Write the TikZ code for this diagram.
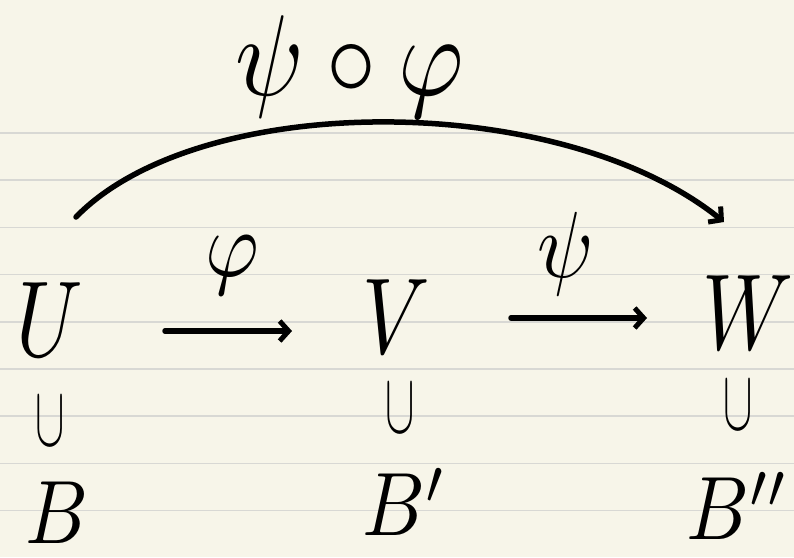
\documentclass[tikz,border=0pt]{standalone}
\usepackage{amsmath}
\usepackage{graphicx}
\usetikzlibrary{arrows.meta}
\definecolor{paper}{HTML}{F7F5E9}
\definecolor{ruling}{HTML}{D8D8D4}
\begin{document}
\begin{tikzpicture}[x=1pt,y=-1pt,
  big/.style={inner sep=0pt, xscale=8.4, yscale=10.8},
  mid/.style={inner sep=0pt, xscale=7.8, yscale=9.0},
  lab/.style={inner sep=0pt, xscale=8.2, yscale=9.4},
  toplab/.style={inner sep=0pt, xscale=10, yscale=11.5},
  incl/.style={inner sep=0pt, xscale=4.4, yscale=8.6},
  pen/.style={line width=5.5pt, line cap=round, line join=round},
  mapto/.style={pen, -{Straight Barb[length=9pt, width=20pt, line width=5pt]}}]
\fill[paper] (0,0) rectangle (794,557);
\useasboundingbox (0,0) rectangle (794,557);
\foreach \yy in {133,180.2,227.4,274.6,321.8,369,416.2,463.4,510.6}
  \draw[ruling, line width=1.6pt] (0,\yy) -- (794,\yy);
% objects
\node[big] (U) at (50,320) {$U$};
\node[big] (V) at (396,317) {$V$};
\node[big] (W) at (748,313) {$W$};
% inclusions
\node[incl] (iU) at (50,422) {$\cup$};
\node[incl] (iV) at (400,409) {$\cup$};
\node[incl] (iW) at (738,406) {$\cup$};
% subspaces
\node[mid] (B) at (57,513) {$B$};
\node[mid] (B1) at (405,502) {$B'$};
\node[mid] (B2) at (738,506) {$B''$};
% maps
\coordinate (f1) at (165,331);
\coordinate (f2) at (292,331);
\coordinate (g1) at (511,318);
\coordinate (g2) at (647,318);
\draw[mapto] (f1) -- (f2);
\draw[mapto] (g1) -- (g2);
\node[lab] (phi) at (232,265) {$\varphi$};
\node[lab] (psi) at (566,254) {$\psi$};
% composite
\coordinate (c1) at (76,217);
\coordinate (c2) at (724,222);
\draw[mapto] (c1) .. controls (200,90) and (560,90) .. (c2);
\node[toplab] (comp) at (350,67) {$\psi\circ\varphi$};
\end{tikzpicture}
\end{document}
